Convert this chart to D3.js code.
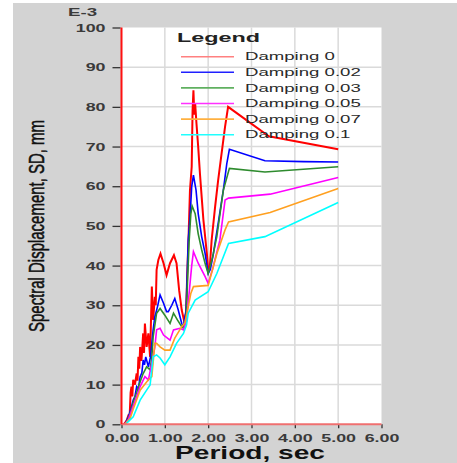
<!DOCTYPE html>
<html>
<head>
<meta charset="utf-8">
<script src="https://cdn.jsdelivr.net/npm/d3@7"></script>
<style>
  body { margin: 0; background: #fff; }
  svg { display: block; font-family: "Liberation Sans", Arial, sans-serif; }
</style>
</head>
<body>
<svg width="457" height="463"></svg>
<script>
// period (sec), SD (E-3 mm)
var damping0 = [[0.05,0],[0.08,0.3],[0.12,1],[0.16,2.3],[0.19,2.5],[0.21,8],[0.23,9.5],[0.25,7],[0.27,11.2],[0.31,10],[0.35,12.8],[0.37,11],[0.39,17],[0.41,14],[0.43,19.5],[0.46,16],[0.5,22.9],[0.52,18],[0.54,25.4],[0.58,19.5],[0.62,22.9],[0.66,17],[0.7,34.7],[0.73,26.3],[0.77,32.1],[0.79,30],[0.81,38.9],[0.85,41.4],[0.9,43],[0.97,40.6],[1.04,37.6],[1.12,40.6],[1.21,42.6],[1.27,40.6],[1.33,33.8],[1.39,28.8],[1.44,26.3],[1.49,28],[1.52,38.9],[1.55,48],[1.58,59],[1.62,64.9],[1.64,79],[1.66,84.2],[1.68,78],[1.7,80.8],[1.73,75.8],[1.77,69.9],[1.81,63.2],[1.85,57.3],[1.89,51.5],[1.93,47.3],[1.97,43],[2.0,38.9],[2.04,40],[2.08,46.4],[2.16,54.8],[2.23,61.5],[2.31,68.3],[2.39,75],[2.46,80],[3.4,72.6],[5.0,69.3]];
var damping002 = [[0.08,0],[0.16,1.9],[0.22,4],[0.27,6.1],[0.31,7],[0.35,9.5],[0.39,9],[0.43,12],[0.47,13],[0.5,16.2],[0.53,15],[0.56,17],[0.62,14.5],[0.67,17],[0.7,20.4],[0.73,23.8],[0.77,27.1],[0.83,29.6],[0.89,32.6],[0.97,30.5],[1.04,28.4],[1.08,28.4],[1.16,30],[1.23,31.7],[1.31,28.8],[1.39,25.4],[1.43,24.6],[1.49,28.8],[1.52,38.9],[1.54,46.4],[1.58,52],[1.62,59.9],[1.66,62.8],[1.72,59],[1.77,53.1],[1.85,47.3],[1.93,43],[2.0,38],[2.05,39],[2.12,43],[2.23,50.6],[2.35,59],[2.43,65.7],[2.49,69.3],[3.31,66.4],[4.2,66.2],[5.0,66.1]];
var damping003 = [[0.08,0],[0.16,1.5],[0.22,3.5],[0.27,5.5],[0.35,8],[0.43,10.7],[0.5,12.8],[0.58,14.5],[0.66,13.7],[0.7,17],[0.73,22],[0.77,25],[0.81,28],[0.89,29.2],[1.0,27.5],[1.12,25.4],[1.2,28],[1.29,26.3],[1.39,24.6],[1.43,24.2],[1.49,27],[1.52,35],[1.56,46],[1.6,53],[1.63,55],[1.7,53.1],[1.77,48],[1.85,44],[1.93,40.5],[2.0,38],[2.1,42],[2.2,47.3],[2.35,59],[2.49,64.5],[3.31,63.6],[5.0,64.9]];
var damping005 = [[0.08,0],[0.16,1.2],[0.27,4.6],[0.35,7],[0.43,9.5],[0.54,12],[0.62,11.2],[0.7,15.4],[0.77,19.5],[0.81,23.8],[0.89,24.2],[0.97,22.5],[1.12,21.2],[1.2,23.8],[1.35,24.2],[1.43,23.8],[1.5,26],[1.56,33],[1.62,40],[1.66,43.5],[1.77,40.6],[1.93,37.2],[2.0,35.5],[2.1,39],[2.27,46.4],[2.39,56.5],[2.47,57],[3.43,58],[5.0,62.2]];
var damping007 = [[0.08,0],[0.2,1.5],[0.27,3.8],[0.43,8.6],[0.62,11.2],[0.7,12],[0.77,20.4],[0.81,20.4],[0.89,19.5],[1.0,18.7],[1.12,18.7],[1.23,21.7],[1.39,24.6],[1.46,25.5],[1.54,29.6],[1.6,33],[1.66,34.7],[2.0,35],[2.2,43],[2.39,49],[2.47,51],[3.43,53.4],[5.0,59.4]];
var damping01 = [[0.12,0.3],[0.27,1.9],[0.43,6.1],[0.58,8.6],[0.66,9.9],[0.73,17],[0.81,17.5],[0.89,16.7],[1.0,15],[1.12,17],[1.27,20.4],[1.43,22.9],[1.5,25],[1.54,28],[1.7,31.3],[2.0,33.4],[2.2,38],[2.47,45.6],[3.31,47.3],[5.0,55.9]];

var seriesNames = ['Damping 0', 'Damping 0.02', 'Damping 0.03', 'Damping 0.05', 'Damping 0.07', 'Damping 0.1'];
var seriesColors = ['#ff0000', '#0000ff', '#2e8b2e', '#ff00ff', '#ffa020', '#00ffff'];
var legendColors = ['#ff8080', '#2020ff', '#60b060', '#ff30ff', '#ffb040', '#20ffff'];
var allSeries = [damping0, damping002, damping003, damping005, damping007, damping01];

var xTicks = [0, 1, 2, 3, 4, 5, 6];
var yTicks = [0, 10, 20, 30, 40, 50, 60, 70, 80, 90, 100];

var svg = d3.select('svg');

var x = d3.scaleLinear().domain([0, 6]).range([121.5, 381.5]);
var y = d3.scaleLinear().domain([0, 100]).range([424.3, 27.5]);

// stretch text horizontally like the original bitmap
function widen(sel, k) {
	sel.each(function() {
		var w = this.getComputedTextLength();
		d3.select(this).attr('textLength', w * k).attr('lengthAdjust', 'spacingAndGlyphs');
	});
}

// gray panel + white plot area
svg.append('rect').attr('x', 13).attr('y', 3).attr('width', 444).attr('height', 460).attr('fill', '#d3d3d3');
svg.append('rect')
	.attr('x', x(0)).attr('y', y(100))
	.attr('width', x(6) - x(0)).attr('height', y(0) - y(100))
	.attr('fill', '#fff');

// grid
svg.append('g').selectAll('line')
	.data(xTicks.slice(1, -1))
	.enter().append('line')
		.attr('x1', d => x(d)).attr('x2', d => x(d))
		.attr('y1', y(100)).attr('y2', y(0))
		.attr('stroke', '#dadada').attr('stroke-width', 1.5);
svg.append('g').selectAll('line')
	.data(yTicks.slice(1, -1))
	.enter().append('line')
		.attr('x1', x(0)).attr('x2', x(6))
		.attr('y1', d => y(d)).attr('y2', d => y(d))
		.attr('stroke', '#dadada').attr('stroke-width', 1.5);

// axes
var yAxis = svg.append('g')
	.attr('transform', `translate(${x(0) - 1}, 0)`)
	.call(d3.axisLeft(y).tickValues(yTicks).tickSize(8).tickPadding(7).tickFormat(d3.format('d')));
var xAxis = svg.append('g')
	.attr('transform', `translate(0, ${y(0)})`)
	.call(d3.axisBottom(x).tickValues(xTicks).tickSize(4).tickPadding(6).tickFormat(d3.format('.2f')));

[yAxis, xAxis].forEach(function(a) {
	a.select('.domain').remove();
	a.selectAll('.tick line').attr('stroke', '#333').attr('stroke-width', 1.3);
	a.selectAll('.tick text')
		.attr('fill', '#3a3a3a')
		.style('font-family', '"Liberation Sans", Arial, sans-serif')
		.style('font-size', '11px')
		.style('font-weight', 'bold')
		.call(widen, 1.62);
});

// series
var line = d3.line().x(d => x(d[0])).y(d => y(d[1]));
svg.append('g').selectAll('path')
	.data(allSeries)
	.enter().append('path')
		.attr('d', line)
		.attr('fill', 'none')
		.attr('stroke', (d, i) => seriesColors[i])
		.attr('stroke-width', (d, i) => i === 0 ? 2 : 1.6)
		.attr('stroke-linejoin', 'miter');

// axis lines
svg.append('line')
	.attr('x1', x(0)).attr('x2', x(6)).attr('y1', y(0)).attr('y2', y(0))
	.attr('stroke', '#f07070').attr('stroke-width', 2);
svg.append('line')
	.attr('x1', x(0)).attr('x2', x(0)).attr('y1', y(100)).attr('y2', y(0))
	.attr('stroke', '#ff1010').attr('stroke-width', 2);

// legend
var legend = svg.append('g');
legend.append('text')
	.attr('x', 177).attr('y', 42)
	.attr('fill', '#222')
	.style('font-size', '12px').style('font-weight', 'bold')
	.text('Legend')
	.attr('textLength', 83).attr('lengthAdjust', 'spacingAndGlyphs');

var rows = legend.selectAll('g.row')
	.data(seriesNames)
	.enter().append('g')
		.attr('class', 'row')
		.attr('transform', (d, i) => `translate(0, ${56.7 + i * 15.6})`);
rows.append('line')
	.attr('x1', 181).attr('x2', 234)
	.attr('stroke', (d, i) => legendColors[i])
	.attr('stroke-width', 1.6);
rows.append('text')
	.attr('x', 245).attr('y', 3.6)
	.attr('fill', '#2a2a2a')
	.style('font-size', '11px')
	.text(d => d)
	.call(widen, 1.69);

// E-3 multiplier
svg.append('text')
	.attr('x', 68).attr('y', 16)
	.attr('fill', '#3a3a3a')
	.style('font-size', '11px').style('font-weight', 'bold')
	.text('E-3')
	.call(widen, 1.7);

// axis titles
svg.append('text')
	.attr('x', 250).attr('y', 459)
	.style('text-anchor', 'middle')
	.style('font-size', '18px').style('font-weight', 'bold')
	.attr('fill', '#111')
	.text('Period, sec')
	.attr('textLength', 150).attr('lengthAdjust', 'spacingAndGlyphs');

svg.append('text')
	.attr('transform', 'translate(43.5, 226) scale(1.5, 1) rotate(-90)')
	.style('text-anchor', 'middle')
	.style('font-size', '14.5px')
	.attr('fill', '#111')
	.attr('stroke', '#111').attr('stroke-width', 0.35)
	.text('Spectral Displacement, SD, mm')
	.attr('textLength', 212).attr('lengthAdjust', 'spacingAndGlyphs');
</script>
</body>
</html>
